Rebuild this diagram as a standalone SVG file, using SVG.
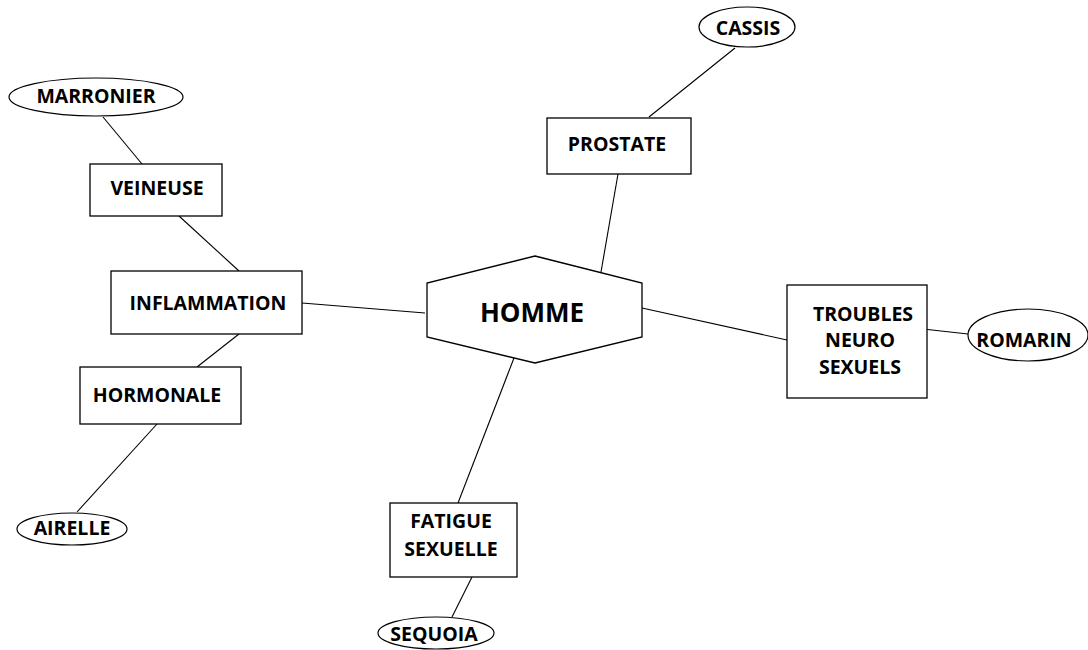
<svg xmlns="http://www.w3.org/2000/svg" width="1088" height="650" viewBox="0 0 1088 650">
<style>
.b{fill:#fff;stroke:#000;stroke-width:1.3}
.e{fill:#fff;stroke:#000;stroke-width:1.2}
.c line{stroke:#000;stroke-width:1.1}
text{font-family:"Open Sans","Liberation Sans",sans-serif;font-weight:700;font-size:19.5px;fill:#000;text-anchor:middle}
.h{font-size:26px}
</style>
<rect width="1088" height="650" fill="#fff"/>
<g class="c" id="connectors">
<line x1="103" y1="117" x2="142" y2="164"/>
<line x1="179" y1="216" x2="239" y2="271"/>
<line x1="302" y1="303" x2="425" y2="313"/>
<line x1="239" y1="334" x2="197" y2="367"/>
<line x1="157" y1="424" x2="77" y2="512"/>
<line x1="618" y1="174" x2="601" y2="272"/>
<line x1="735" y1="48" x2="649" y2="117"/>
<line x1="642" y1="308" x2="787" y2="340"/>
<line x1="923" y1="329" x2="968" y2="334"/>
<line x1="514" y1="358" x2="458" y2="503"/>
<line x1="472" y1="577" x2="452" y2="617"/>
</g>
<g id="marronier"><ellipse class="e" cx="96" cy="97" rx="87" ry="19"/><text x="96" y="103">MARRONIER</text></g>
<g id="veineuse"><rect class="b" x="90" y="164" width="132" height="52"/><text x="157" y="195">VEINEUSE</text></g>
<g id="inflammation"><rect class="b" x="111" y="271" width="191" height="63"/><text x="208" y="310">INFLAMMATION</text></g>
<g id="hormonale"><rect class="b" x="80" y="367" width="161" height="57"/><text x="157" y="402">HORMONALE</text></g>
<g id="airelle"><ellipse class="e" cx="72" cy="529" rx="55" ry="16"/><text x="72" y="535">AIRELLE</text></g>
<g id="homme"><polygon class="b" points="535,256 642,283 642,337 535,363 427,337 427,283"/><text class="h" x="532" y="322">HOMME</text></g>
<g id="prostate"><rect class="b" x="547" y="118" width="144" height="56"/><text x="617" y="151">PROSTATE</text></g>
<g id="cassis"><ellipse class="e" cx="747" cy="27" rx="48" ry="20"/><text x="748" y="35">CASSIS</text></g>
<g id="troubles"><rect class="b" x="787" y="285" width="140" height="113"/><text x="863" y="321">TROUBLES</text><text x="860" y="347">NEURO</text><text x="860" y="374">SEXUELS</text></g>
<g id="romarin"><ellipse class="e" cx="1028" cy="335" rx="60" ry="26"/><text x="1024" y="347">ROMARIN</text></g>
<g id="fatigue"><rect class="b" x="390" y="503" width="127" height="74"/><text x="451" y="528">FATIGUE</text><text x="451" y="556">SEXUELLE</text></g>
<g id="sequoia"><ellipse class="e" cx="436" cy="633" rx="58" ry="16"/><text x="434" y="641">SEQUOIA</text></g>
</svg>
